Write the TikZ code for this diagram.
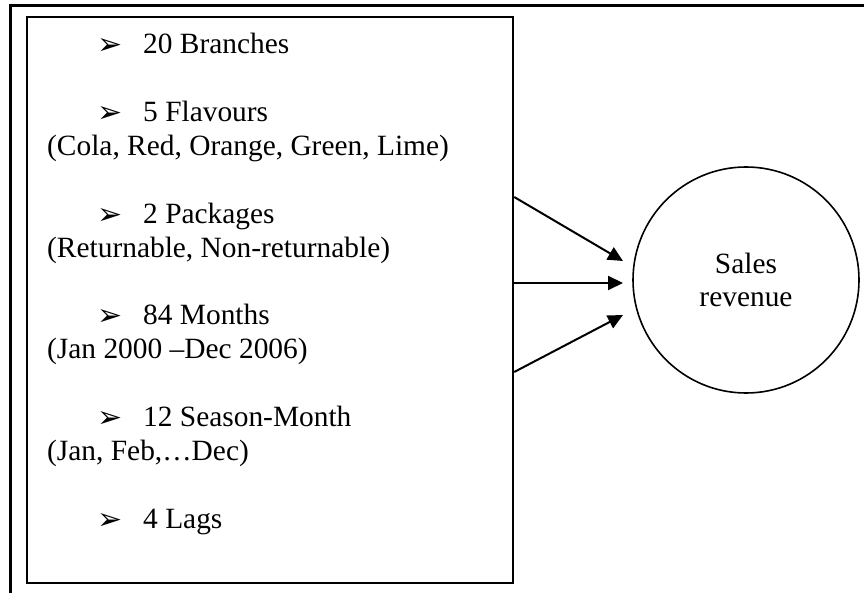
\documentclass[tikz,border=0pt]{standalone}
\usepackage{fontspec}
\setmainfont{Liberation Serif}
\newfontfamily\arrowfont{DejaVu Sans}
\usetikzlibrary{arrows.meta}
\newcommand{\tick}{\makebox[46pt][l]{\raisebox{-1pt}{\fontsize{30}{30}\selectfont\arrowfont ➢}}}

\begin{document}
\begin{tikzpicture}[x=1pt,y=-1pt,
		txt/.style={anchor=base west,inner sep=0pt,font=\fontsize{29.4}{33.86}\selectfont},
		frame/.style={line width=2.4pt},
		arr/.style={line width=2pt,-{Triangle[length=15pt,width=14pt]}}]
		\useasboundingbox (0,0) rectangle (864,593);
		% page frame
		\draw [frame] (10.5,593) -- (10.5,5.5) -- (864,5.5);
		% input box
		\node [draw,frame,minimum width=486pt,minimum height=566pt,inner sep=0pt] (box) at (270,300) {};
		\node [txt] (branch) at (97,54) {\tick 20 Branches};
		\node [txt] (flav) at (97,121.7) {\tick 5 Flavours};
		\node [txt] (flavlist) at (47,155.6) {(Cola, Red, Orange, Green, Lime)};
		\node [txt] (pack) at (97,223.3) {\tick 2 Packages};
		\node [txt] (packlist) at (47,257.1) {(Returnable, Non-returnable)};
		\node [txt] (month) at (97,324.9) {\tick 84 Months};
		\node [txt] (monthlist) at (47,358.7) {(Jan 2000 –Dec 2006)};
		\node [txt] (season) at (97,426.4) {\tick 12 Season-Month};
		\node [txt] (seasonlist) at (47,460.3) {(Jan, Feb,…Dec)};
		\node [txt] (lag) at (97,528) {\tick 4 Lags};
		% output
		\node [draw,circle,line width=1.6pt,minimum size=226pt,inner sep=0pt,align=center,
			font=\fontsize{29.4}{33.86}\selectfont] (rev) at (746,280) {Sales\\revenue};
		\coordinate (in1) at ([shift={(-123,-19)}]rev.center);
		\coordinate (in2) at ([shift={(-123,3)}]rev.center);
		\coordinate (in3) at ([shift={(-123,35)}]rev.center);
		\draw [arr] ([yshift=103pt]box.east) -- (in1);
		\draw [arr] ([yshift=17pt]box.east) -- (in2);
		\draw [arr] ([yshift=-72pt]box.east) -- (in3);
	\end{tikzpicture}
\end{document}
